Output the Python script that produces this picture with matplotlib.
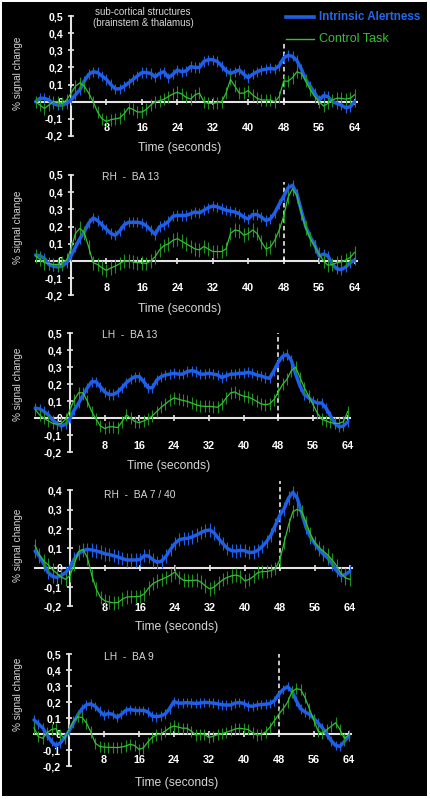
import numpy as np
import matplotlib
matplotlib.use("Agg")
import matplotlib.pyplot as plt
from matplotlib.patches import Rectangle
from matplotlib.lines import Line2D

plt.rcParams['font.family'] = ['Liberation Sans', 'DejaVu Sans']

# time axis, one sample per second
time_s = list(range(-8, 65))

# panel 1 - sub-cortical structures
p1_alert = [0.0, 0.02, 0.02, 0.01, -0.01, -0.02, -0.02, -0.01, 0.01, 0.04, 0.07, 0.12, 0.16, 0.175,
            0.17, 0.15, 0.13, 0.1, 0.075, 0.075, 0.09, 0.11, 0.13, 0.15, 0.17, 0.17, 0.165, 0.145,
            0.165, 0.175, 0.14, 0.16, 0.185, 0.175, 0.18, 0.205, 0.2, 0.2, 0.235, 0.245, 0.245, 0.235,
            0.21, 0.18, 0.165, 0.175, 0.185, 0.16, 0.14, 0.16, 0.175, 0.185, 0.19, 0.195, 0.19, 0.21,
            0.255, 0.27, 0.265, 0.24, 0.19, 0.13, 0.09, 0.05, 0.01, 0.035, 0.03, 0.0, -0.01, -0.02,
            -0.035, -0.03, 0.0]
p1_control = [0.0, -0.02, -0.04, -0.02, 0.0, 0.0, -0.01, 0.01, 0.05, 0.09, 0.11, 0.09, 0.05, 0.0,
              -0.06, -0.1, -0.115, -0.105, -0.1, -0.095, -0.07, -0.035, -0.045, -0.06, -0.06, -0.045,
              -0.02, 0.0, 0.005, 0.015, 0.03, 0.045, 0.055, 0.045, 0.025, 0.015, 0.04, 0.05, 0.0, -0.01,
              -0.01, -0.005, 0.0, 0.05, 0.13, 0.09, 0.05, 0.05, 0.065, 0.04, 0.02, 0.01, 0.01, 0.01,
              0.0, 0.03, 0.12, 0.12, 0.14, 0.175, 0.165, 0.12, 0.07, 0.03, 0.0, -0.025, -0.01, 0.01,
              0.02, 0.02, 0.015, 0.02, 0.04]

# panel 2 - RH BA 13
p2_alert = [0.035, 0.03, 0.015, -0.02, -0.03, -0.035, -0.03, -0.01, 0.03, 0.08, 0.13, 0.17, 0.22,
            0.25, 0.235, 0.21, 0.185, 0.16, 0.15, 0.175, 0.21, 0.225, 0.225, 0.225, 0.22, 0.205, 0.18,
            0.155, 0.2, 0.21, 0.23, 0.26, 0.265, 0.265, 0.265, 0.275, 0.285, 0.28, 0.295, 0.31, 0.32,
            0.315, 0.305, 0.295, 0.29, 0.285, 0.275, 0.255, 0.245, 0.27, 0.27, 0.255, 0.235, 0.245,
            0.28, 0.33, 0.375, 0.425, 0.44, 0.39, 0.29, 0.2, 0.14, 0.095, 0.03, 0.04, 0.03, -0.02,
            -0.045, -0.05, -0.035, -0.01, 0.005]
p2_control = [0.03, 0.01, -0.01, -0.015, -0.02, -0.02, -0.01, 0.005, 0.07, 0.16, 0.19, 0.165, 0.08,
              -0.01, -0.02, -0.04, -0.055, -0.04, -0.03, -0.015, 0.0, 0.0, -0.005, -0.01, -0.01,
              -0.015, 0.0, 0.025, 0.065, 0.09, 0.1, 0.12, 0.13, 0.115, 0.1, 0.085, 0.07, 0.065, 0.085,
              0.07, 0.055, 0.055, 0.055, 0.07, 0.16, 0.18, 0.175, 0.15, 0.16, 0.18, 0.16, 0.11, 0.07,
              0.08, 0.12, 0.18, 0.26, 0.37, 0.42, 0.38, 0.28, 0.19, 0.13, 0.085, 0.04, 0.0, -0.025,
              -0.02, -0.01, -0.005, 0.005, 0.02, 0.05]

# panel 3 - LH BA 13
p3_alert = [0.06, 0.055, 0.04, 0.02, -0.01, -0.03, -0.045, -0.035, 0.0, 0.05, 0.09, 0.135, 0.18,
            0.215, 0.215, 0.185, 0.155, 0.14, 0.14, 0.155, 0.18, 0.21, 0.23, 0.245, 0.245, 0.215,
            0.18, 0.18, 0.225, 0.245, 0.255, 0.26, 0.265, 0.26, 0.26, 0.275, 0.28, 0.275, 0.26, 0.26,
            0.265, 0.26, 0.255, 0.24, 0.25, 0.26, 0.26, 0.265, 0.265, 0.27, 0.265, 0.255, 0.25, 0.24,
            0.235, 0.28, 0.33, 0.365, 0.375, 0.34, 0.26, 0.19, 0.14, 0.12, 0.1, 0.09, 0.09, 0.06,
            0.015, -0.03, -0.05, -0.045, -0.02]
p3_control = [0.05, 0.02, 0.0, -0.015, -0.03, -0.035, -0.03, -0.005, 0.05, 0.11, 0.15, 0.15, 0.1,
              0.04, -0.005, -0.045, -0.06, -0.05, -0.05, -0.055, -0.02, 0.02, 0.0, -0.02, -0.025,
              -0.015, -0.005, 0.015, 0.04, 0.065, 0.085, 0.105, 0.12, 0.112, 0.105, 0.1, 0.09, 0.08,
              0.073, 0.07, 0.07, 0.068, 0.065, 0.085, 0.12, 0.15, 0.155, 0.14, 0.13, 0.125, 0.115,
              0.1, 0.085, 0.08, 0.085, 0.11, 0.155, 0.2, 0.23, 0.28, 0.3, 0.24, 0.18, 0.13, 0.08,
              0.03, -0.005, -0.015, -0.025, -0.03, -0.03, -0.02, 0.04]

# panel 4 - RH BA 7 / 40
p4_alert = [0.085, 0.06, 0.02, -0.025, -0.045, -0.05, -0.04, -0.025, 0.0, 0.045, 0.075, 0.088,
            0.095, 0.092, 0.087, 0.08, 0.072, 0.068, 0.062, 0.055, 0.047, 0.04, 0.04, 0.04, 0.042,
            0.062, 0.06, 0.04, 0.028, 0.035, 0.06, 0.095, 0.125, 0.145, 0.15, 0.152, 0.16, 0.17,
            0.182, 0.192, 0.195, 0.18, 0.15, 0.125, 0.1, 0.088, 0.086, 0.09, 0.088, 0.078, 0.08,
            0.09, 0.11, 0.135, 0.17, 0.22, 0.27, 0.305, 0.36, 0.39, 0.36, 0.285, 0.21, 0.16, 0.125,
            0.095, 0.07, 0.05, 0.02, -0.015, -0.04, -0.035, -0.02]
p4_control = [0.115, 0.065, 0.035, 0.015, -0.01, -0.03, -0.048, -0.06, -0.04, 0.02, 0.085, 0.095,
              0.05, -0.04, -0.11, -0.155, -0.172, -0.178, -0.182, -0.18, -0.162, -0.152, -0.15,
              -0.15, -0.148, -0.135, -0.105, -0.082, -0.07, -0.06, -0.05, -0.038, -0.022, -0.05,
              -0.065, -0.067, -0.066, -0.064, -0.075, -0.095, -0.11, -0.1, -0.08, -0.062, -0.05,
              -0.042, -0.038, -0.045, -0.068, -0.06, -0.045, -0.025, -0.02, -0.02, -0.015, -0.005,
              0.04, 0.13, 0.22, 0.29, 0.302, 0.29, 0.235, 0.175, 0.13, 0.105, 0.085, 0.066, 0.04,
              0.01, -0.03, -0.052, -0.06]

# panel 5 - LH BA 9
p5_alert = [0.09, 0.065, 0.04, -0.005, -0.045, -0.07, -0.055, -0.02, 0.02, 0.07, 0.12, 0.16, 0.185,
            0.19, 0.175, 0.145, 0.12, 0.13, 0.125, 0.105, 0.125, 0.15, 0.155, 0.15, 0.148, 0.15,
            0.14, 0.115, 0.11, 0.115, 0.127, 0.16, 0.205, 0.195, 0.195, 0.198, 0.195, 0.193, 0.195,
            0.2, 0.198, 0.195, 0.19, 0.185, 0.183, 0.183, 0.195, 0.198, 0.193, 0.178, 0.175, 0.183,
            0.186, 0.188, 0.192, 0.21, 0.25, 0.28, 0.298, 0.27, 0.21, 0.16, 0.14, 0.125, 0.1, 0.07,
            0.04, 0.0, -0.04, -0.07, -0.075, -0.045, -0.01]
p5_control = [0.04, -0.015, -0.025, 0.01, 0.03, 0.035, 0.0, -0.025, 0.03, 0.08, 0.11, 0.105, 0.07,
              0.015, -0.055, -0.075, -0.08, -0.081, -0.082, -0.083, -0.08, -0.073, -0.062, -0.07,
              -0.094, -0.085, -0.05, -0.02, -0.004, 0.002, 0.02, 0.04, 0.052, 0.045, 0.038, 0.038,
              0.02, -0.004, 0.0, 0.0, -0.02, -0.012, -0.002, 0.004, 0.012, 0.022, 0.033, 0.038,
              0.034, 0.03, 0.01, -0.004, 0.0, 0.015, 0.045, 0.085, 0.125, 0.16, 0.2, 0.265, 0.285,
              0.28, 0.23, 0.16, 0.09, 0.02, 0.005, 0.03, 0.05, 0.072, 0.03, -0.025, -0.005]

alert_series = [p1_alert, p2_alert, p3_alert, p4_alert, p5_alert]
control_series = [p1_control, p2_control, p3_control, p4_control, p5_control]
alert_sem = [0.03, 0.03, 0.03, 0.035, 0.03]
control_sem = [0.035, 0.04, 0.035, 0.035, 0.035]

panel_titles = ["sub-cortical structures\n(brainstem & thalamus)", "RH  -  BA 13", "LH  -  BA 13",
                "RH  -  BA 7 / 40", "LH  -  BA 9"]
xtick_vals = [8, 16, 24, 32, 40, 48, 56, 64]
ytick_sets = [[-0.2, -0.1, 0, 0.1, 0.2, 0.3, 0.4, 0.5]] * 3 + [[-0.2, -0.1, 0, 0.1, 0.2, 0.3, 0.4]] \
    + [[-0.2, -0.1, 0, 0.1, 0.2, 0.3, 0.4, 0.5]]
onset_s = 48
onset_top = [0.34, 0.46, 0.5, 0.45, 0.5]

# pixel layout: x origin, px per second, y of zero line, px per unit
layout = [(71.0, 4.43, 101.7, 171.3),
          (71.0, 4.43, 261.0, 172.0),
          (70.0, 4.34, 418.3, 170.0),
          (70.0, 4.37, 567.7, 193.3),
          (69.0, 4.37, 734.3, 160.0)]
xlabel_pos = [(180, 148), (180, 309), (169, 466), (177, 627), (177, 783)]
ylabel_y = [73, 227, 384, 545, 694]
title_pos = [(143, 17.5, 'center'), (102, 177, 'left'), (102, 335, 'left'), (104, 495, 'left'),
             (104, 657, 'left')]
xtick_pad = [13, 13.5, 14, 23.5, 13]

W, H = 430, 799
XMIN, XMAX = -9.0, 66.0
YMIN, YMAX = -0.24, 0.54
BLUE = '#1e5fe6'
GREEN = '#36bf36'
GREEN_ERR = '#1f8f1f'
AXIS = '#e4e4e4'
TEXT = '#d6d6d6'


def fmt_tick(v):
    if abs(v) < 1e-9:
        return "0"
    return f"{v:.1f}".replace(".", ",")


fig = plt.figure(figsize=(W / 100, H / 100), dpi=100, facecolor='white')
fig.add_artist(Rectangle((2 / W, 1 - 796 / H), 425 / W, 794 / H, transform=fig.transFigure,
                         facecolor='black', edgecolor='none', zorder=-10))

t = np.array(time_s)
for i in range(5):
    ox, sx, oy, sy = layout[i]
    left = ox + XMIN * sx
    width = (XMAX - XMIN) * sx
    top = oy - YMAX * sy
    height = (YMAX - YMIN) * sy
    ax = fig.add_axes([left / W, 1 - (top + height) / H, width / W, height / H])
    ax.set_xlim(XMIN, XMAX)
    ax.set_ylim(YMIN, YMAX)
    ax.patch.set_visible(False)

    ya = np.array(alert_series[i])
    yc = np.array(control_series[i])
    ax.errorbar(t, ya, yerr=alert_sem[i], fmt='none', ecolor=BLUE, elinewidth=0.8, zorder=3)
    ax.plot(t, ya, color=BLUE, lw=2.5, solid_capstyle='round', zorder=4)
    ax.errorbar(t, yc, yerr=control_sem[i], fmt='none', ecolor=GREEN_ERR, elinewidth=0.8, zorder=5)
    ax.plot(t, yc, color=GREEN, lw=0.9, zorder=6)

    ax.plot([onset_s, onset_s], [0, onset_top[i]], color='white', lw=1.1, ls=(0, (3, 2)), zorder=2)

    for s in ['top', 'right']:
        ax.spines[s].set_visible(False)
    for s in ['left', 'bottom']:
        ax.spines[s].set_position(('data', 0))
        ax.spines[s].set_color(AXIS)
        ax.spines[s].set_linewidth(1.5)
        ax.spines[s].set_zorder(1)
    yt = ytick_sets[i]
    ax.spines['left'].set_bounds(yt[0], yt[-1])
    ax.spines['bottom'].set_bounds(-8, 64.5)

    ax.set_xticks(xtick_vals)
    ax.set_xticklabels([str(v) for v in xtick_vals], fontweight='bold', fontsize=7.8)
    ax.set_yticks(yt)
    ax.set_yticklabels([fmt_tick(v) for v in yt], fontweight='bold', fontsize=7.6)
    ax.tick_params(axis='both', direction='inout', length=4.5, width=1.2, colors=AXIS,
                   labelcolor='white')
    ax.tick_params(axis='x', pad=xtick_pad[i])
    ax.tick_params(axis='y', pad=3.5)

    fig.text(18 / W, 1 - ylabel_y[i] / H, "% signal change", rotation=90, ha='center', va='center',
             color=TEXT, fontsize=7.2)
    fig.text(xlabel_pos[i][0] / W, 1 - xlabel_pos[i][1] / H, "Time (seconds)", ha='center',
             va='center', color=TEXT, fontsize=8.7)
    tx, ty, ha = title_pos[i]
    fig.text(tx / W, 1 - ty / H, panel_titles[i], ha=ha, va='center', color=TEXT,
             fontsize=7.0 if i == 0 else 7.4, linespacing=1.15)

# legend
fig.add_artist(Line2D([286 / W, 314 / W], [1 - 16.7 / H, 1 - 16.7 / H], color=BLUE, lw=2.6,
                      transform=fig.transFigure))
fig.add_artist(Line2D([286 / W, 314 / W], [1 - 39 / H, 1 - 39 / H], color=GREEN, lw=1.0,
                      transform=fig.transFigure))
fig.text(319 / W, 1 - 16.7 / H, "Intrinsic Alertness", color='#2468ea', fontweight='bold',
         fontsize=8.4, va='center', ha='left')
fig.text(319 / W, 1 - 39 / H, "Control Task", color=GREEN, fontsize=9.0, va='center', ha='left')

fig.savefig("out.png", dpi=100, facecolor=fig.get_facecolor())
